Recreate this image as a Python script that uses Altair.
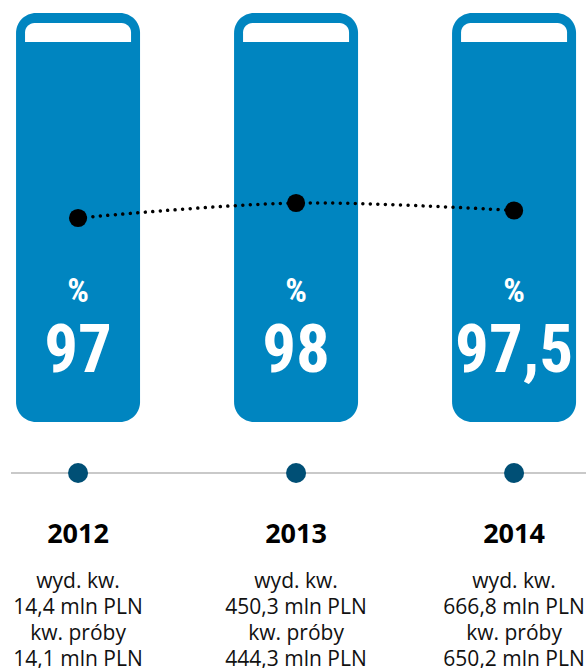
import altair as alt
import pandas as pd

years = [2012, 2013, 2014]
pct = [97, 98, 97.5]
pct_labels = ["97", "98", "97,5"]
spend = ["14,4", "450,3", "666,8"]
trials = ["14,1", "444,3", "650,2"]
capacity = [100, 100, 100]

df = pd.DataFrame({
    "year": years,
    "pct": pct,
    "label": pct_labels,
    "cap": capacity,
    "ylabel": [str(y) for y in years],
    "desc": [f"wyd. kw.\n{s} mln PLN\nkw. próby\n{t} mln PLN" for s, t in zip(spend, trials)],
})

BLUE = "#0085C0"
DARK = "#004F75"
W, H = 586, 668
NARROW = "Liberation Sans Narrow, Roboto Condensed, Arial Narrow, sans-serif"

xs = alt.Scale(domain=[2011.642, 2014.330], nice=False, zero=False, padding=0)
X = alt.X("year:Q", scale=xs, axis=None)

# bar (tank) scale: 0 -> bottom of tank, 100 -> top of tank
ybar = alt.Scale(domain=[-60.15, 103.18], nice=False, zero=False, padding=0)
# percentage line scale
ypct = alt.Scale(domain=[67, 111.533], nice=False, zero=False, padding=0)

base = alt.Chart(df)

bars = base.mark_bar(size=124, cornerRadius=20, color=BLUE).encode(
    x=X,
    y=alt.Y("cap:Q", scale=ybar, axis=None),
    y2=alt.datum(0),
)

strip = base.mark_bar(size=106, color="white",
                      cornerRadiusTopLeft=11, cornerRadiusTopRight=11).encode(
    x=X,
    y=alt.Y("cap:Q", scale=ybar, axis=None),
    y2=alt.datum(92.9),
    yOffset=alt.value(10),
)

line = base.mark_line(color="black", strokeWidth=3.5, strokeCap="round",
                      strokeDash=[0.01, 7.5], interpolate="cardinal").encode(
    x=X,
    y=alt.Y("pct:Q", scale=ypct, axis=None),
)

pts = base.mark_point(filled=True, color="black", size=330, opacity=1).encode(
    x=X,
    y=alt.Y("pct:Q", scale=ypct, axis=None),
)

rule = base.mark_rule(color="#C8C8C8", strokeWidth=1.5).encode(
    x=alt.value(11), x2=alt.value(586), y=alt.value(473)
)

dots = base.mark_point(filled=True, color=DARK, size=400, opacity=1).encode(
    x=X, y=alt.value(473)
)

pct_sign = base.mark_text(text="%", color="white", fontSize=34, fontWeight="bold",
                          font=NARROW, baseline="alphabetic").encode(
    x=X, y=alt.value(302)
)

big = base.mark_text(color="white", fontSize=67, fontWeight="bold",
                     font=NARROW, baseline="alphabetic").encode(
    x=X, y=alt.value(372), text="label:N"
)

yr = base.mark_text(color="black", fontSize=27, fontWeight="bold",
                    font="Open Sans", baseline="alphabetic").encode(
    x=X, y=alt.value(543), text="ylabel:N"
)

desc = base.mark_text(color="#111111", fontSize=21, font="Open Sans",
                      baseline="alphabetic", lineBreak="\n", lineHeight=26).encode(
    x=X, y=alt.value(588), text="desc:N"
)

chart = alt.layer(bars, strip, line, pts, rule, dots, pct_sign, big, yr, desc).resolve_scale(
    y="independent"
).properties(
    width=W, height=H, autosize=alt.AutoSizeParams(type="none"), padding=0
).configure_view(stroke=None)

chart.save("out.html", embed_options={"renderer": "svg", "actions": False})
